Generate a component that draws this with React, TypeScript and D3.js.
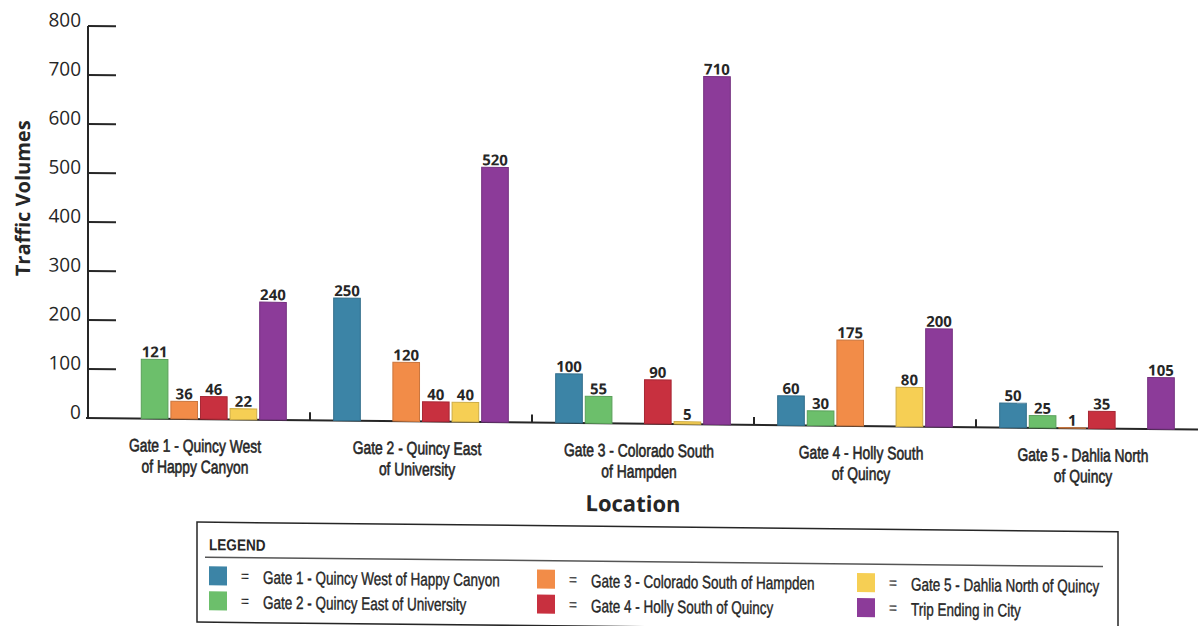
import React from "react";
import * as d3 from "d3";

const categoryLines: string[][] = [
  ["Gate 1 - Quincy West", "of Happy Canyon"],
  ["Gate 2 - Quincy East", "of University"],
  ["Gate 3 - Colorado South", "of Hampden"],
  ["Gate 4 - Holly South", "of Quincy"],
  ["Gate 5 - Dahlia North", "of Quincy"],
];
const categories = ["Gate 1", "Gate 2", "Gate 3", "Gate 4", "Gate 5"];

const seriesNames = [
  "Gate 1 - Quincy West of Happy Canyon",
  "Gate 2 - Quincy East of University",
  "Gate 3 - Colorado South of Hampden",
  "Gate 4 - Holly South of Quincy",
  "Gate 5 - Dahlia North of Quincy",
  "Trip Ending in City",
];
const seriesColors = ["#3c84a6", "#6cbf6b", "#f28c48", "#c8303f", "#f6cf54", "#8c3b99"];

const gate1Values: (number | null)[] = [null, 250, 100, 60, 50];
const gate2Values: (number | null)[] = [121, null, 55, 30, 25];
const gate3Values: (number | null)[] = [36, 120, null, 175, 1];
const gate4Values: (number | null)[] = [46, 40, 90, null, 35];
const gate5Values: (number | null)[] = [22, 40, 5, 80, null];
const tripValues: (number | null)[] = [240, 520, 710, 200, 105];
const seriesValues = [gate1Values, gate2Values, gate3Values, gate4Values, gate5Values, tripValues];

const yTicks = [0, 100, 200, 300, 400, 500, 600, 700, 800];

const W = 1198;
const H = 626;
const axisX = 88;
const plotRight = 1198;
const yTop = 25;
const yBottom = 417;

const arial = "'Liberation Sans', Arial, sans-serif";
const sans = "'Open Sans', 'DejaVu Sans', sans-serif";
const ink = "#262626";

function NarrowText(props: {
  x: number;
  y: number;
  size: number;
  sx: number;
  anchor?: "start" | "middle" | "end";
  bold?: boolean;
  weight?: number;
  children: React.ReactNode;
}) {
  return (
    <text
      transform={`translate(${props.x},${props.y}) scale(${props.sx},1)`}
      textAnchor={props.anchor || "start"}
      fontFamily={arial}
      fontSize={props.size}
      fontWeight={props.bold ? 700 : 400}
      fill={ink}
      stroke={props.weight ? ink : "none"}
      strokeWidth={props.weight || 0}
    >
      {props.children}
    </text>
  );
}

export default function App() {
  const x0 = d3.scaleBand<string>().domain(categories).range([axisX, plotRight]).padding(0);
  const x1 = d3
    .scaleBand<string>()
    .domain(seriesNames)
    .range([0, x0.bandwidth()])
    .paddingInner(0.1)
    .paddingOuter(0.8);
  const y = d3.scaleLinear().domain([0, 800]).range([yBottom, yTop]);

  const bars: React.ReactNode[] = [];
  const labels: React.ReactNode[] = [];
  categories.forEach((cat, ci) => {
    seriesNames.forEach((s, si) => {
      const v = seriesValues[si][ci];
      if (v == null) return;
      const bx = (x0(cat) as number) + (x1(s) as number);
      const top = y(v);
      const col = seriesColors[si];
      bars.push(
        <rect
          key={`b-${ci}-${si}`}
          x={bx}
          y={top}
          width={x1.bandwidth()}
          height={Math.max(0, y(0) - top)}
          fill={col}
          stroke={d3.color(col)!.darker(0.5).toString()}
          strokeWidth={1}
        />
      );
      labels.push(
        <text
          key={`l-${ci}-${si}`}
          x={bx + x1.bandwidth() / 2}
          y={top - 2}
          textAnchor="middle"
          fontFamily={sans}
          fontWeight={700}
          fontSize={15}
          fill={ink}
        >
          {v}
        </text>
      );
    });
  });

  const legendCols = [209, 537, 857];
  const legendRowsY = [564, 589];

  return (
    <svg
      width={W}
      height={H}
      viewBox={`0 0 ${W} ${H}`}
      style={{ position: "absolute", left: 0, top: 0, background: "#fff" }}
    >
      <rect x={0} y={0} width={W} height={H} fill="#fff" />
      <g transform="skewY(0.6)">
        {/* y axis */}
        <line x1={axisX} x2={axisX} y1={yTop} y2={y(0)} stroke={ink} strokeWidth={2} />
        {yTicks.map((t) => (
          <g key={`t-${t}`}>
            {t > 0 && (
              <line x1={axisX} x2={axisX + 28} y1={y(t)} y2={y(t)} stroke={ink} strokeWidth={2} />
            )}
            <text
              x={axisX - 7}
              y={y(t) + 1}
              textAnchor="end"
              fontFamily={sans}
              fontSize={19}
              fill={ink}
            >
              {t}
            </text>
          </g>
        ))}
        {/* baseline */}
        <line x1={axisX - 2} x2={plotRight} y1={y(0)} y2={y(0)} stroke={ink} strokeWidth={2} />
        {categories.slice(1).map((c) => (
          <line
            key={`sep-${c}`}
            x1={x0(c) as number}
            x2={x0(c) as number}
            y1={y(0)}
            y2={y(0) - 8}
            stroke={ink}
            strokeWidth={2}
          />
        ))}
        {bars}
        {labels}
        {/* category labels */}
        {categories.map((c, ci) => {
          const cx = (x0(c) as number) + x0.bandwidth() / 2 - 4;
          return (
            <g key={`cat-${c}`}>
              {categoryLines[ci].map((line, li) => (
                <NarrowText key={li} x={cx} y={450 + li * 21} size={18} sx={0.77} anchor="middle" weight={0.6}>
                  {line}
                </NarrowText>
              ))}
            </g>
          );
        })}
        <text
          x={633}
          y={505}
          textAnchor="middle"
          fontFamily={sans}
          fontWeight={700}
          fontSize={22}
          fill={ink}
        >
          Location
        </text>
        <text
          transform={`translate(30,198) rotate(-90)`}
          textAnchor="middle"
          fontFamily={sans}
          fontWeight={700}
          fontSize={20}
          fill={ink}
        >
          Traffic Volumes
        </text>

        {/* legend */}
        <rect x={197} y={520} width={921} height={100} fill="#fff" stroke={ink} strokeWidth={1.5} />
        <NarrowText x={209} y={548} size={16} sx={0.85} bold>
          LEGEND
        </NarrowText>
        <line x1={205} x2={1103} y1={555} y2={555} stroke="#555" strokeWidth={1.5} />
        {seriesNames.map((s, si) => {
          const col = Math.floor(si / 2);
          const row = si % 2;
          const lx = legendCols[col];
          const ly = legendRowsY[row];
          return (
            <g key={`lg-${si}`}>
              <rect x={lx} y={ly} width={18} height={19} fill={seriesColors[si]} />
              <NarrowText x={lx + 36} y={ly + 15} size={16} sx={0.9} anchor="middle">
                =
              </NarrowText>
              <NarrowText x={lx + 54} y={ly + 17} size={18} sx={0.75} weight={0.4}>
                {s}
              </NarrowText>
            </g>
          );
        })}
      </g>
    </svg>
  );
}
